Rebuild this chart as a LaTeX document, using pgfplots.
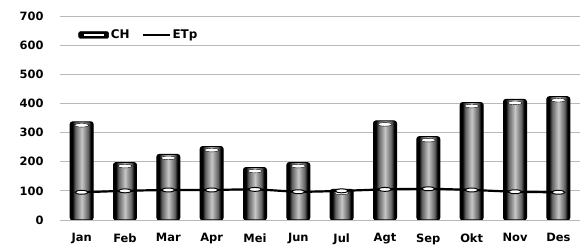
\documentclass[border=0pt]{standalone}
\usepackage{fontspec}
\setmainfont{DejaVu Sans}
\usepackage{pgfplots}
\pgfplotsset{compat=1.18}
\pgfdeclarehorizontalshading{barshade}{100bp}{color(0bp)=(black); color(25bp)=(black); color(30bp)=(black); color(36bp)=(black!62); color(50bp)=(black!22); color(64bp)=(black!62); color(70bp)=(black); color(75bp)=(black); color(100bp)=(black)}
\pgfplotsset{
  chbar/.style={ybar, bar width=23bp, bar shift=0pt, draw=black, line width=1pt, shading=barshade, rounded corners=2.5pt, forget plot},
}
\begin{document}
\begin{tikzpicture}
\begin{axis}[
  scale only axis,
  width=520bp, height=204bp,
  xmin=-0.5, xmax=11.5,
  ymin=0, ymax=700,
  ytick={0,100,...,700},
  xtick={0,...,11},
  xticklabels={Jan,Feb,Mar,Apr,Mei,Jun,Jul,Agt,Sep,Okt,Nov,Des},
  ymajorgrids,
  grid style={gray!55, line width=0.8pt},
  axis line style={draw=none},
  major tick length=0pt,
  tick label style={font=\bfseries\fontsize{11.5}{13}\selectfont},
  /pgf/number format/assume math mode=true,
  yticklabel style={xshift=-13bp},
  xticklabel style={yshift=-10bp},
  legend style={draw=none, fill=none, at={(0.035,0.907)}, anchor=west, legend columns=2,
    font=\bfseries\fontsize{12}{14}\selectfont, inner sep=0pt,
    /tikz/every even column/.append style={column sep=10bp}},
]
\addplot[chbar] coordinates {(0,337)};
\addplot[chbar] coordinates {(1,197)};
\addplot[chbar] coordinates {(2,225)};
\addplot[chbar] coordinates {(3,252)};
\addplot[chbar] coordinates {(4,180)};
\addplot[chbar] coordinates {(5,197)};
\addplot[chbar] coordinates {(6,105)};
\addplot[chbar] coordinates {(7,340)};
\addplot[chbar] coordinates {(8,286)};
\addplot[chbar] coordinates {(9,403)};
\addplot[chbar] coordinates {(10,414)};
\addplot[chbar] coordinates {(11,423)};
\addlegendimage{legend image code/.code={\fill[black, rounded corners=1.5pt] (0bp,-3.5bp) rectangle (30bp,3.5bp); \draw[white, line width=1.2pt] (5bp,0bp) -- (25bp,0bp);}}
\addlegendentry{CH}
\addplot[only marks, mark=*, mark size=7bp, forget plot,
  mark options={yshift=-3.5bp, draw=none, fill=white, yscale=0.26}]
  coordinates {(0,337) (1,197) (2,225) (3,252) (4,180) (5,197) (6,105) (7,340) (8,286) (9,403) (10,414) (11,423)};
\addplot[black, line width=2.2pt, smooth, mark=*, mark size=6.5bp,
  mark options={fill=white, draw=black, line width=1pt, yscale=0.3},
  legend image code/.code={\draw[black, line width=2pt] (0bp,0bp) -- (27bp,0bp);}]
  coordinates {(0,95) (1,100) (2,103) (3,103) (4,105) (5,97) (6,100) (7,105) (8,107) (9,103) (10,97) (11,95)};
\addlegendentry{ETp}
\end{axis}
\path ([shift={(-60bp,-29bp)}]current axis.south west) rectangle ([shift={(6bp,16bp)}]current axis.north east);
\end{tikzpicture}
\end{document}
